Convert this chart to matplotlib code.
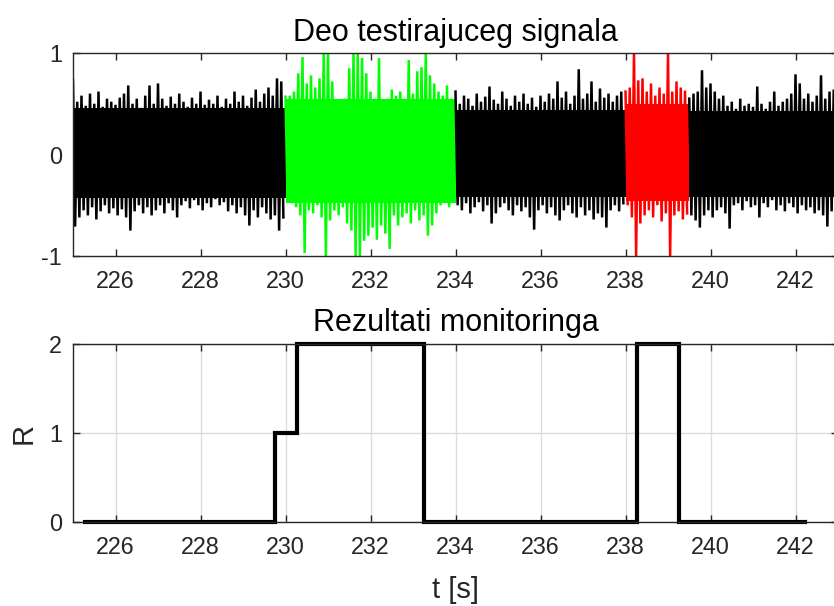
import numpy as np
import matplotlib
matplotlib.use("Agg")
import matplotlib.pyplot as plt

plt.rcParams['font.family'] = ['Liberation Sans', 'DejaVu Sans']
plt.rcParams['axes.unicode_minus'] = False

# ---------------- data ----------------
title_top = "Deo testirajuceg signala"
title_bottom = "Rezultati monitoringa"
xlabel_bottom = "t [s]"
ylabel_bottom = "R"

sample_dt = 0.1  # envelope sampling of the displayed signal [s]

# segment 1 (black) 225.0 .. 229.9
seg1_start = 225.0
seg1_upper = [0.73, 0.52, 0.58, 0.48, 0.60, 0.50, 0.62, 0.47, 0.55, 0.52,
              0.49, 0.56, 0.60, 0.68, 0.50, 0.55, 0.46, 0.58, 0.68, 0.50,
              0.70, 0.55, 0.48, 0.57, 0.50, 0.60, 0.52, 0.47, 0.56, 0.50,
              0.62, 0.49, 0.54, 0.50, 0.58, 0.47, 0.55, 0.50, 0.62, 0.52,
              0.58, 0.48, 0.56, 0.64, 0.52, 0.60, 0.66, 0.58, 0.75, 0.72]
seg1_lower = [-0.71, -0.62, -0.55, -0.60, -0.52, -0.64, -0.56, -0.50, -0.58, -0.53,
              -0.60, -0.54, -0.62, -0.75, -0.56, -0.50, -0.58, -0.52, -0.60, -0.55,
              -0.50, -0.58, -0.48, -0.55, -0.62, -0.50, -0.46, -0.53, -0.45, -0.50,
              -0.55, -0.48, -0.52, -0.44, -0.50, -0.47, -0.56, -0.50, -0.58, -0.52,
              -0.60, -0.70, -0.55, -0.62, -0.52, -0.58, -0.64, -0.60, -0.75, -0.62]

# segment 2 (green, detected class 2) 230.0 .. 233.9
seg2_start = 230.0
seg2_upper = [0.57, 0.58, 0.62, 0.80, 0.96, 0.70, 0.78, 0.66, 0.75, 1.00,
              1.00, 0.72, 0.50, 0.47, 0.55, 0.85, 1.00, 1.00, 0.95, 0.80,
              0.62, 0.55, 0.95, 0.50, 0.55, 0.64, 0.58, 0.62, 0.55, 0.93,
              0.60, 0.82, 0.86, 1.00, 0.78, 0.70, 0.62, 0.58, 0.68, 0.55]
seg2_lower = [-0.45, -0.48, -0.52, -0.60, -0.97, -0.55, -0.58, -0.50, -0.62, -1.00,
              -0.65, -0.55, -0.60, -0.52, -0.68, -0.75, -1.00, -1.00, -0.85, -0.80,
              -0.72, -0.84, -0.70, -0.78, -0.93, -0.60, -0.70, -0.62, -0.58, -0.68,
              -0.55, -0.65, -0.60, -0.80, -0.70, -0.58, -0.50, -0.47, -0.52, -0.45]

# segment 3 (black) 234.0 .. 237.9
seg3_start = 234.0
seg3_upper = [0.62, 0.50, 0.58, 0.55, 0.48, 0.60, 0.52, 0.57, 0.67, 0.54,
              0.50, 0.62, 0.55, 0.48, 0.58, 0.52, 0.60, 0.50, 0.56, 0.47,
              0.58, 0.52, 0.60, 0.55, 0.72, 0.56, 0.62, 0.50, 0.58, 0.84,
              0.55, 0.60, 0.72, 0.52, 0.65, 0.56, 0.60, 0.52, 0.58, 0.62]
seg3_lower = [-0.50, -0.55, -0.48, -0.58, -0.52, -0.47, -0.56, -0.50, -0.68, -0.58,
              -0.52, -0.48, -0.55, -0.60, -0.50, -0.56, -0.52, -0.62, -0.74, -0.55,
              -0.50, -0.58, -0.52, -0.60, -0.65, -0.55, -0.50, -0.58, -0.62, -0.52,
              -0.60, -0.55, -0.64, -0.58, -0.62, -0.72, -0.55, -0.50, -0.56, -0.48]

# segment 4 (red, detected class 2) 238.0 .. 239.4
seg4_start = 238.0
seg4_upper = [0.62, 0.66, 1.00, 0.73, 0.75, 0.62, 0.70, 0.58, 0.66, 0.60,
              1.00, 0.62, 0.72, 0.66, 0.63]
seg4_lower = [-0.50, -0.62, -1.00, -0.68, -0.60, -0.55, -0.62, -0.50, -0.66, -0.58,
              -1.00, -0.60, -0.56, -0.64, -0.58]

# segment 5 (black) 239.5 .. 243.0
seg5_start = 239.5
seg5_upper = [0.55, 0.60, 0.62, 0.83, 0.66, 0.70, 0.62, 0.55, 0.58, 0.48,
              0.52, 0.45, 0.55, 0.48, 0.50, 0.47, 0.67, 0.50, 0.45, 0.52,
              0.62, 0.48, 0.52, 0.55, 0.60, 0.79, 0.70, 0.55, 0.60, 0.52,
              0.58, 0.78, 0.55, 0.62, 0.64, 0.58]
seg5_lower = [-0.60, -0.65, -0.72, -0.60, -0.55, -0.62, -0.55, -0.52, -0.58, -0.73,
              -0.50, -0.48, -0.55, -0.46, -0.52, -0.50, -0.62, -0.48, -0.52, -0.45,
              -0.55, -0.50, -0.56, -0.48, -0.52, -0.58, -0.50, -0.55, -0.52, -0.58,
              -0.55, -0.60, -0.71, -0.56, -0.64, -0.58]

# solid (dense) core of each segment: upper / lower level
seg_core_upper = [0.46, 0.55, 0.44, 0.50, 0.43]
seg_core_lower = [-0.43, -0.48, -0.42, -0.46, -0.42]

seg_colors = ['#000000', '#00ff00', '#000000', '#ff0000', '#000000']

# monitoring result (step function)
r_time = [225.28, 229.76, 230.26, 233.26, 238.28, 239.25, 242.22]
r_value = [0, 1, 2, 0, 2, 0, 0]

x_ticks = [226, 228, 230, 232, 234, 236, 238, 240, 242]
x_lim = (225, 243)
top_yticks = [-1, 0, 1]
bot_yticks = [0, 1, 2]

# ---------------- figure ----------------
W, H, DPI = 834, 606, 100
fig = plt.figure(figsize=(W / DPI, H / DPI), dpi=DPI)

def px_axes(left, top, right, bottom):
    return fig.add_axes([left / W, 1 - bottom / H, (right - left) / W, (bottom - top) / H])

ax1 = px_axes(73, 53, 838, 256)
ax2 = px_axes(73, 344, 838, 522)

axis_col = '#262626'
tick_fs = 16.8
title_fs = 22
label_fs = 21

segments = [
    (seg1_start, seg1_upper, seg1_lower),
    (seg2_start, seg2_upper, seg2_lower),
    (seg3_start, seg3_upper, seg3_lower),
    (seg4_start, seg4_upper, seg4_lower),
    (seg5_start, seg5_upper, seg5_lower),
]

for k, ((start, up, lo), col, cu, cl) in enumerate(zip(segments, seg_colors,
                                                        seg_core_upper, seg_core_lower)):
    up = np.asarray(up)
    lo = np.asarray(lo)
    t = start + np.arange(len(up)) * sample_dt
    t_end = t[-1] + sample_dt
    ax1.fill_between([start, t_end], [cl, cl], [cu, cu], color=col, lw=0, zorder=2 + k)
    xs = np.empty(2 * len(t))
    ys = np.empty(2 * len(t))
    xs[0::2] = t
    xs[1::2] = t + sample_dt / 2
    ys[0::2] = up
    ys[1::2] = lo
    ax1.plot(xs, ys, color=col, lw=1.8, solid_joinstyle='miter', zorder=2 + k)

ax1.set_xlim(*x_lim)
ax1.set_ylim(-1, 1)
ax1.set_xticks(x_ticks)
ax1.set_yticks(top_yticks)
ax1.set_title(title_top, fontsize=title_fs, pad=9, color='black')

ax2.plot(r_time, r_value, drawstyle='steps-post', color='black', lw=3.0,
         clip_on=False, solid_joinstyle='miter')
ax2.set_xlim(*x_lim)
ax2.set_ylim(0, 2)
ax2.set_xticks(x_ticks)
ax2.set_yticks(bot_yticks)
ax2.grid(True, color='#dcdcdc', lw=1.0)
ax2.set_axisbelow(True)
ax2.set_title(title_bottom, fontsize=title_fs, pad=9, color='black')
ax2.set_xlabel(xlabel_bottom, fontsize=label_fs, color=axis_col, labelpad=12)
ax2.set_ylabel(ylabel_bottom, fontsize=label_fs, color=axis_col, labelpad=8)

for ax in (ax1, ax2):
    for s in ax.spines.values():
        s.set_color(axis_col)
        s.set_linewidth(1.0)
        s.set_zorder(20)
    ax.tick_params(axis='both', direction='in', length=5, width=1.0, color=axis_col,
                   labelcolor=axis_col, labelsize=tick_fs, top=True, right=True)
    ax.tick_params(axis='x', pad=10)
    ax.tick_params(axis='y', pad=8)

fig.savefig('out.png', dpi=DPI)
